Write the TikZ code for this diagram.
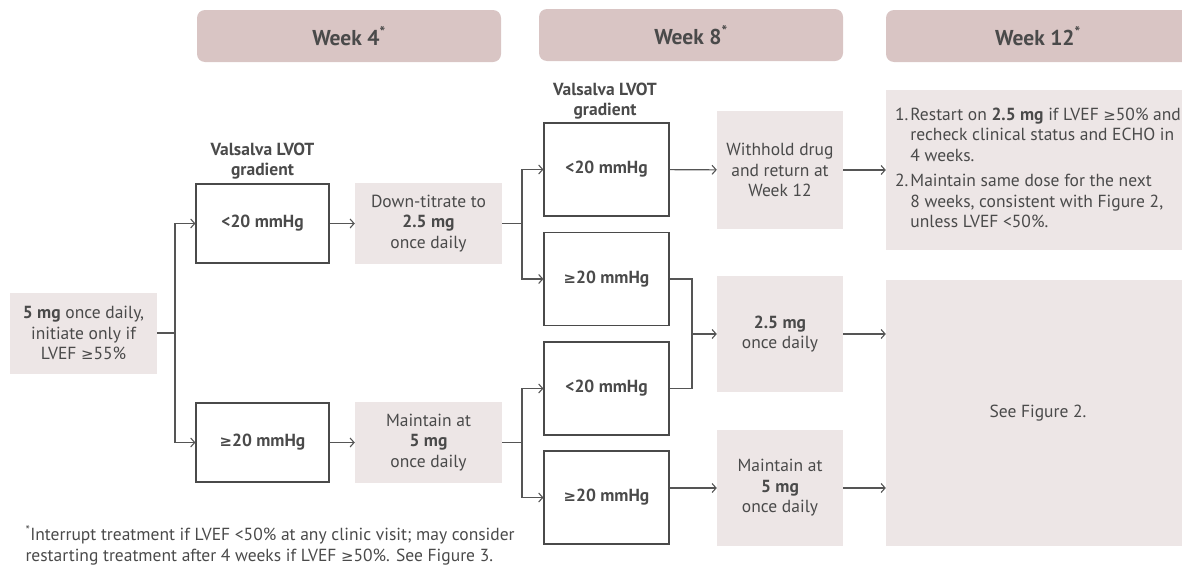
\documentclass[tikz,border=0pt]{standalone}
\usepackage{fontspec}
\setmainfont{PT Sans}
\newfontfamily\symfont[Scale=0.85]{DejaVu Sans}
\newcommand{\atleast}{{\symfont ≥}}
\usetikzlibrary{arrows.meta}
\definecolor{headfill}{HTML}{D9C5C4}
\definecolor{boxfill}{HTML}{EDE6E6}
\definecolor{ink}{HTML}{4A4A4A}
\definecolor{linegray}{HTML}{555555}
% column positions (pixels of the page)
\pgfmathsetmacro{\colstart}{83.5}
\pgfmathsetmacro{\colgradA}{262.5}
\pgfmathsetmacro{\coldoseA}{428.5}
\pgfmathsetmacro{\colgradB}{606.5}
\pgfmathsetmacro{\coldoseB}{780}
\pgfmathsetmacro{\colend}{1038}

\begin{document}
\begin{tikzpicture}[
    x=1pt, y=-1pt,
    every node/.style={text=ink, font=\fontsize{17.5}{20.5}\selectfont},
    week/.style={fill=headfill, rounded corners=8pt, minimum width=304pt,
        minimum height=52pt, font=\fontsize{21.5}{24}\selectfont\bfseries},
    gradtitle/.style={align=center, font=\fontsize{17.5}{20}\selectfont\bfseries},
    gradbox/.style={draw=ink, line width=1.2pt, minimum width=133pt,
        minimum height=79pt, font=\fontsize{17.5}{20}\selectfont\bfseries},
    dosebox/.style={fill=boxfill, align=center, inner sep=0pt,
        minimum width=147pt, minimum height=81pt},
    wire/.style={draw=linegray, line width=1.1pt},
    arr/.style={wire, -{Straight Barb[length=4pt, width=9pt]}},
]
\useasboundingbox (0,0) rectangle (1182,565);
% week headers
\node[week] (wk4) at (349,36) {Week 4\textsuperscript{*}};
\node[week] (wk8) at (691,35) {Week 8\textsuperscript{*}};
\node[week] (wk12) at (\colend,36) {Week 12\textsuperscript{*}};
% start
\node[dosebox] (start) at (\colstart,333) {\textbf{5 mg} once daily,\\initiate only if\\LVEF \atleast55\%};
% week 4
\node[gradtitle] (title4) at (\colgradA,161) {Valsalva LVOT\\gradient};
\node[gradbox] (g4lo) at (\colgradA,223.5) {<20 mmHg};
\node[gradbox] (g4hi) at (\colgradA,442.5) {\atleast20 mmHg};
\node[dosebox] (down4) at (\coldoseA,223.5) {Down-titrate to\\\textbf{2.5 mg}\\once daily};
\node[dosebox] (keep4) at (\coldoseA,442.5) {Maintain at\\\textbf{5 mg}\\once daily};
% week 8
\node[gradtitle] (title8) at (605,101) {Valsalva LVOT\\gradient};
\node[gradbox, minimum width=125pt, minimum height=93pt] (g8a) at (\colgradB,169.5) {<20 mmHg};
\node[gradbox, minimum width=125pt, minimum height=93pt] (g8b) at (\colgradB,279) {\atleast20 mmHg};
\node[gradbox, minimum width=125pt, minimum height=93pt] (g8c) at (\colgradB,388.5) {<20 mmHg};
\node[gradbox, minimum width=125pt, minimum height=93pt] (g8d) at (\colgradB,497.5) {\atleast20 mmHg};
\node[dosebox, minimum width=126pt, minimum height=118pt] (hold8) at (\coldoseB,170) {Withhold drug\\and return at\\Week 12};
\node[dosebox, minimum width=126pt, minimum height=116pt] (half8) at (\coldoseB,334) {\textbf{2.5 mg}\\once daily};
\node[dosebox, minimum width=126pt, minimum height=116pt] (keep8) at (\coldoseB,488) {Maintain at\\\textbf{5 mg}\\once daily};
% week 12
\node[dosebox, minimum width=304pt, minimum height=160pt] (note12) at (\colend,170) {%
    \raisebox{-2.5pt}{\begin{tabular}{@{}l@{\hspace{2pt}}l@{}}
    1. & Restart on \textbf{2.5 mg} if LVEF \atleast50\% and\\
       & recheck clinical status and ECHO in\\
       & 4 weeks.\\[5pt]
    2. & Maintain same dose for the next\\
       & 8 weeks, consistent with Figure 2,\\
       & unless LVEF <50\%.
    \end{tabular}}};
\node[dosebox, minimum width=304pt, minimum height=266pt] (fig2) at (\colend,413) {See Figure 2.};
% branch points
\coordinate (split4) at (175,333);
\coordinate (split8a) at (522,223.5);
\coordinate (split8b) at (522,442.5);
\coordinate (join8) at (692,334);
% draw connectors
\draw[wire] (start.east) -- (split4);
\draw[arr] (split4) |- (g4lo);
\draw[arr] (split4) |- (g4hi);
\draw[arr] (g4lo) -- (down4);
\draw[arr] (g4hi) -- (keep4);
\draw[wire] (down4.east) -- (split8a);
\draw[arr] (split8a) |- (g8a);
\draw[arr] (split8a) |- (g8b);
\draw[wire] (keep4.east) -- (split8b);
\draw[arr] (split8b) |- (g8c);
\draw[arr] (split8b) |- (g8d);
\draw[arr] (g8a) -- (hold8);
\draw[arr] (hold8) -- (note12);
\draw[wire] (g8b.east) -| (join8);
\draw[wire] (g8c.east) -| (join8);
\draw[arr] (join8) -- (half8);
\draw[arr] (g8d.east |- keep8) -- (keep8);
\draw[arr] (half8.east) -- (half8.east -| fig2.west);
\draw[arr] (keep8.east) -- (keep8.east -| fig2.west);
% footnote
\node[align=left, anchor=west] (foot) at (22,545.5) {\textsuperscript{*}Interrupt treatment if LVEF <50\% at any clinic visit; may consider\\restarting treatment after 4 weeks if LVEF \atleast50\%. See Figure 3.};
\end{tikzpicture}
\end{document}
